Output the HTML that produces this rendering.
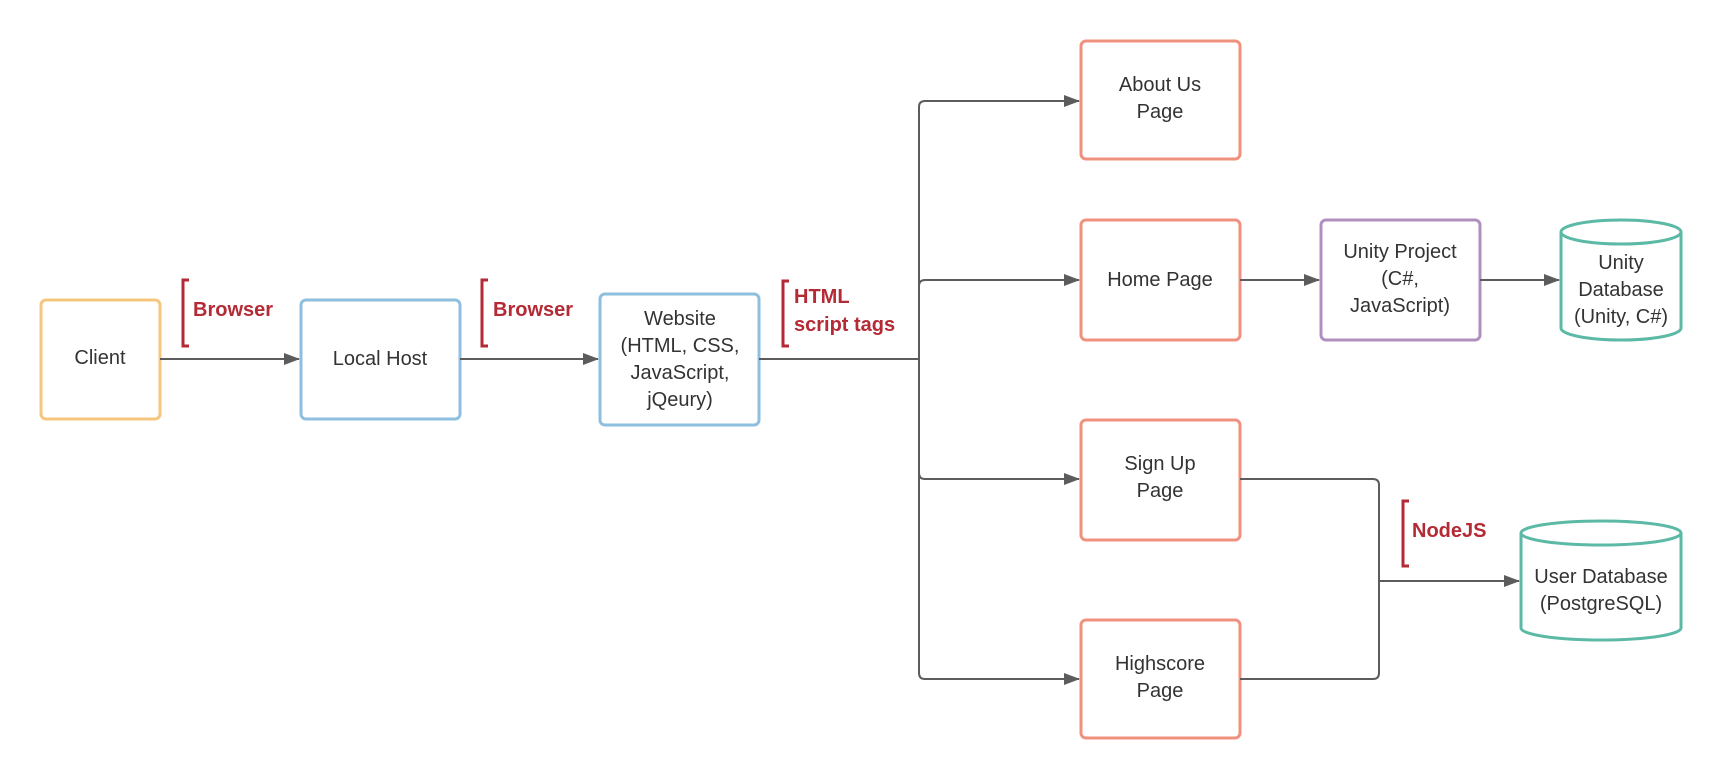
<!DOCTYPE html>
<html><head><style>
body{margin:0;background:#fff;}
svg{display:block;}
text{font-family:"Liberation Sans",Arial,sans-serif;font-size:20px;fill:#333;}
.l{font-weight:bold;fill:#b42a35;font-size:20px;}
</style></head><body>
<svg width="1720" height="780" viewBox="0 0 1720 780">
<defs><marker id="a" markerWidth="16" markerHeight="14" refX="15" refY="7" orient="auto" markerUnits="userSpaceOnUse"><path d="M0,1 L16,7 L0,13 z" fill="#5c5c5c"/></marker></defs>
<g fill="#fff" stroke-width="3">
<rect x="41" y="300" width="119" height="119" rx="5" stroke="#f5c77e"/>
<rect x="301" y="300" width="159" height="119" rx="5" stroke="#8ebfdf"/>
<rect x="600" y="294" width="159" height="131" rx="5" stroke="#8ebfdf"/>
<rect x="1081" y="41" width="159" height="118" rx="5" stroke="#f0917f"/>
<rect x="1081" y="220" width="159" height="120" rx="5" stroke="#f0917f"/>
<rect x="1081" y="420" width="159" height="120" rx="5" stroke="#f0917f"/>
<rect x="1081" y="620" width="159" height="118" rx="5" stroke="#f0917f"/>
<rect x="1321" y="220" width="159" height="120" rx="5" stroke="#b08fbe"/>
<path d="M1561,232 L1561,328 A60,12 0 0 0 1681,328 L1681,232 A60,12 0 0 0 1561,232 A60,12 0 0 0 1681,232" stroke="#5bb9a5"/>
<path d="M1521,533 L1521,628 A80,12 0 0 0 1681,628 L1681,533 A80,12 0 0 0 1521,533 A80,12 0 0 0 1681,533" stroke="#5bb9a5"/>
</g>
<g stroke="#5c5c5c" stroke-width="2" fill="none">
<path d="M160,359 H299" marker-end="url(#a)"/>
<path d="M460,359 H598" marker-end="url(#a)"/>
<path d="M759,359 H919"/>
<path d="M919,359 V107 Q919,101 925,101 H1079" marker-end="url(#a)"/>
<path d="M919,359 V286 Q919,280 925,280 H1079" marker-end="url(#a)"/>
<path d="M919,359 V473 Q919,479 925,479 H1079" marker-end="url(#a)"/>
<path d="M919,359 V673 Q919,679 925,679 H1079" marker-end="url(#a)"/>
<path d="M1240,280 H1319" marker-end="url(#a)"/>
<path d="M1480,280 H1559" marker-end="url(#a)"/>
<path d="M1240,479 H1373 Q1379,479 1379,485 V673 Q1379,679 1373,679 H1240"/>
<path d="M1379,581 H1519" marker-end="url(#a)"/>
</g>
<g stroke="#b42a35" stroke-width="3" fill="none">
<path d="M189,280 H183 V346 H189"/>
<path d="M488,280 H482 V346 H488"/>
<path d="M789,281 H783 V346 H789"/>
<path d="M1409,501 H1403 V566 H1409"/>
</g>
<text class="l" x="193" y="316">Browser</text>
<text class="l" x="493" y="316">Browser</text>
<text class="l" x="794" y="303">HTML</text>
<text class="l" x="794" y="331">script tags</text>
<text class="l" x="1412" y="537">NodeJS</text>
<g text-anchor="middle">
<text x="100" y="364">Client</text>
<text x="380" y="365">Local Host</text>
<text x="680" y="325">Website</text>
<text x="680" y="352">(HTML, CSS,</text>
<text x="680" y="379">JavaScript,</text>
<text x="680" y="406">jQeury)</text>
<text x="1160" y="91">About Us</text>
<text x="1160" y="118">Page</text>
<text x="1160" y="286">Home Page</text>
<text x="1160" y="470">Sign Up</text>
<text x="1160" y="497">Page</text>
<text x="1160" y="670">Highscore</text>
<text x="1160" y="697">Page</text>
<text x="1400" y="258">Unity Project</text>
<text x="1400" y="285">(C#,</text>
<text x="1400" y="312">JavaScript)</text>
<text x="1621" y="269">Unity</text>
<text x="1621" y="296">Database</text>
<text x="1621" y="323">(Unity, C#)</text>
<text x="1601" y="583">User Database</text>
<text x="1601" y="610">(PostgreSQL)</text>
</g>
</svg>
</body></html>
